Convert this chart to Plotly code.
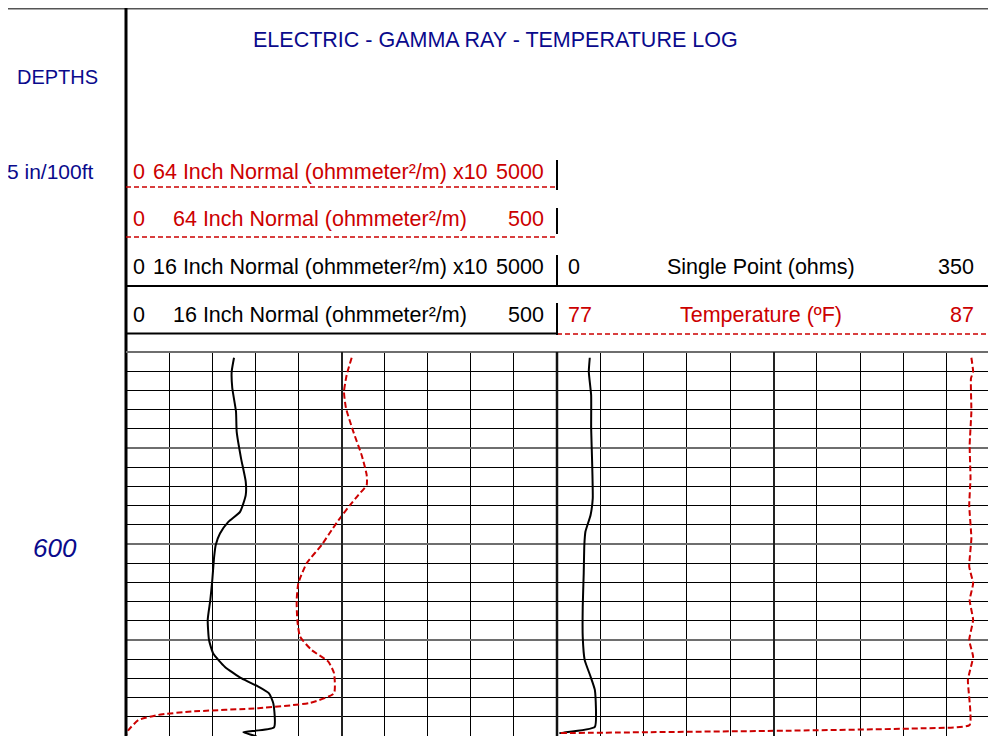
import plotly.graph_objects as go

# ---------------- data ----------------
# 16 Inch Normal (ohmmeter²/m), track 1 scale 0-500
depth_n16 = [561.2, 564.1, 567.5, 572.4, 576.6, 582.1, 587.0, 589.8, 593.3, 595.4, 597.8, 600.2,
             602.6, 607.5, 611.7, 615.8, 620.0, 622.8, 625.6, 628.0, 629.7, 631.1, 633.2, 638.2,
             639.2, 640.0, 641.0]
n16 = [125.3, 122.6, 123.3, 127.6, 128.4, 133.4, 138.9, 138.9, 132.3, 118.7, 109.0, 104.1,
       102.3, 100.1, 97.8, 94.8, 96.3, 101.2, 114.8, 134.2, 153.5, 165.9, 170.9, 171.7,
       136.1, 149.7, 160.0]

# 64 Inch Normal (ohmmeter²/m), track 1 scale 0-500
depth_n64 = [561.2, 564.8, 568.3, 571.7, 576.6, 581.5, 585.6, 587.7, 589.8, 591.9, 594.6, 597.1,
             600.2, 604.0, 608.2, 611.7, 615.8, 619.3, 622.1, 624.5, 626.9, 631.1, 633.1, 634.2,
             634.9, 635.6, 636.7, 638.8, 639.8]
n64 = [261.8, 256.0, 252.9, 255.2, 263.7, 273.4, 279.2, 279.2, 269.5, 259.9, 248.3, 238.6,
       227.0, 209.6, 199.9, 198.0, 198.7, 201.9, 215.4, 234.7, 241.3, 241.3, 213.5, 153.5,
       76.2, 37.5, 14.3, 2.7, 0.0]

# Single Point (ohms), track 2 scale 0-350
depth_sp = [561.2, 564.1, 569.0, 575.9, 582.9, 590.5, 594.0, 597.4, 600.2, 606.1, 613.1, 619.3,
            624.2, 627.6, 630.4, 638.1, 639.3, 639.4]
sp = [26.5, 25.7, 27.6, 27.6, 28.4, 28.9, 27.1, 23.0, 22.1, 21.6, 20.8, 20.8,
      22.4, 27.1, 30.6, 30.6, 5.3, 1.9]

# Temperature (ºF), track 2 scale 77-87
depth_temp = [561.2, 564.1, 565.5, 572.4, 579.4, 586.3, 591.9, 598.8, 604.7, 608.2, 611.7, 615.8,
              620.0, 623.5, 628.3, 637.7, 638.4, 638.9, 639.2, 639.4]
temp = [86.57, 86.61, 86.56, 86.57, 86.53, 86.55, 86.52, 86.57, 86.52, 86.61, 86.53, 86.61,
        86.52, 86.61, 86.49, 86.53, 85.40, 82.29, 79.17, 77.03]

depth_range = [640, 560]
n_range = [0, 500]
sp_range = [0, 350]
temp_range = [77, 87]

# ---------------- layout helpers ----------------
OFF = 8                      # page body margin
W, H = 988, 728              # figure size
def px(x):
    return (x - OFF) / W
def py(y):
    return 1 - (y - OFF) / H

NAVY = "#0a0a8c"
RED = "#cc0000"
FONT = "Liberation Sans, Arial, sans-serif"

fig = go.Figure()

fig.add_trace(go.Scatter(x=n16, y=depth_n16, mode="lines", xaxis="x", yaxis="y",
                         line=dict(color="black", width=2, shape="spline", smoothing=0.5),
                         showlegend=False, hoverinfo="skip"))
fig.add_trace(go.Scatter(x=n64, y=depth_n64, mode="lines", xaxis="x", yaxis="y",
                         line=dict(color=RED, width=2, dash="6px,3px", shape="spline", smoothing=0.5),
                         showlegend=False, hoverinfo="skip"))
fig.add_trace(go.Scatter(x=sp, y=depth_sp, mode="lines", xaxis="x2", yaxis="y2",
                         line=dict(color="black", width=2, shape="spline", smoothing=0.4),
                         showlegend=False, hoverinfo="skip"))
fig.add_trace(go.Scatter(x=temp, y=depth_temp, mode="lines", xaxis="x3", yaxis="y2",
                         line=dict(color=RED, width=2, dash="6px,3px", shape="spline", smoothing=0.4),
                         showlegend=False, hoverinfo="skip"))

ydom = [0, py(352)]
grid_y = dict(range=depth_range, domain=ydom, showticklabels=False, ticks="",
              tick0=560, dtick=20, showgrid=True, gridcolor="#6e6e6e", gridwidth=2,
              zeroline=False, showline=False,
              minor=dict(dtick=4, tick0=560, showgrid=True, gridcolor="black", gridwidth=1))

fig.update_layout(
    width=W, height=H, margin=dict(l=0, r=0, t=0, b=0),
    paper_bgcolor="white", plot_bgcolor="white",
    xaxis=dict(domain=[px(126), px(557)], range=n_range, anchor="y",
               showticklabels=False, ticks="", zeroline=False, showline=False,
               tick0=0, dtick=250, showgrid=True, gridcolor="#222", gridwidth=2,
               minor=dict(dtick=50, tick0=0, showgrid=True, gridcolor="black", gridwidth=1)),
    xaxis2=dict(domain=[px(557), px(990)], range=sp_range, anchor="y2",
                showticklabels=False, ticks="", zeroline=False, showline=False,
                tick0=0, dtick=175, showgrid=True, gridcolor="#222", gridwidth=2,
                minor=dict(dtick=35, tick0=0, showgrid=True, gridcolor="black", gridwidth=1)),
    xaxis3=dict(range=temp_range, overlaying="x2", anchor="y2",
                showticklabels=False, ticks="", zeroline=False, showline=False, showgrid=False),
    yaxis=dict(anchor="x", **grid_y),
    yaxis2=dict(anchor="x2", matches="y", **grid_y),
    showlegend=False,
)

shapes = []
def hline(y, x0, x1, color="black", width=1.5, dash=None):
    shapes.append(dict(type="line", xref="paper", yref="paper", x0=px(x0), x1=px(x1),
                       y0=py(y), y1=py(y), layer="above",
                       line=dict(color=color, width=width, dash=dash)))
def vline(x, y0, y1, color="black", width=1.5):
    shapes.append(dict(type="line", xref="paper", yref="paper", x0=px(x), x1=px(x),
                       y0=py(y0), y1=py(y1), layer="above",
                       line=dict(color=color, width=width)))

# frame
hline(8.5, 8, 996, color="#555", width=2)
vline(126, 8, 736, width=3)
vline(990, 8, 736, width=2)
hline(352, 126, 990, color="#6e6e6e", width=2)
vline(342, 352, 736, color="#222", width=2)
vline(557, 352, 736, color="#111", width=2.5)
vline(774, 352, 736, color="#222", width=2)
# header separators
hline(187, 126, 557, color=RED, width=1.5, dash="5px,3px")
hline(237, 126, 557, color=RED, width=1.5, dash="5px,3px")
hline(286, 126, 990, color="black", width=2)
hline(333.5, 126, 557, color="black", width=2)
hline(334, 557, 990, color=RED, width=1.5, dash="5px,3px")
# small ticks at track boundary
for (a, b) in [(160, 190), (208, 234), (255, 287), (303, 335)]:
    vline(557, a, b, width=2)
fig.update_layout(shapes=shapes)

ann = []
def text(t, x, y, color, size=21.5, anchor="center", italic=False):
    ann.append(dict(text=t, x=px(x), y=py(y), xref="paper", yref="paper",
                    xanchor=anchor, yanchor="middle", showarrow=False,
                    font=dict(family=FONT, size=size, color=color,
                              style="italic" if italic else "normal")))

text("ELECTRIC - GAMMA RAY - TEMPERATURE LOG", 495, 40, NAVY)
text("DEPTHS", 57, 77, NAVY, size=20)
text("5 in/100ft", 50, 172, NAVY, size=21)
text("600", 55, 548, NAVY, size=26, italic=True)

rows = [
    (172, "0", "64 Inch Normal (ohmmeter²/m) x10", "5000", RED),
    (219, "0", "64 Inch Normal (ohmmeter²/m)", "500", RED),
    (267, "0", "16 Inch Normal (ohmmeter²/m) x10", "5000", "black"),
    (315, "0", "16 Inch Normal (ohmmeter²/m)", "500", "black"),
]
for (y, lo, mid, hi, c) in rows:
    text(lo, 131, y, c, anchor="left")
    text(mid, 320, y, c)
    text(hi, 546, y, c, anchor="right")

rows2 = [
    (267, "0", "Single Point (ohms)", "350", "black"),
    (315, "77", "Temperature (ºF)", "87", RED),
]
for (y, lo, mid, hi, c) in rows2:
    text(lo, 566, y, c, anchor="left")
    text(mid, 761, y, c)
    text(hi, 976, y, c, anchor="right")

fig.update_layout(annotations=ann)
fig.write_html("out.html")
